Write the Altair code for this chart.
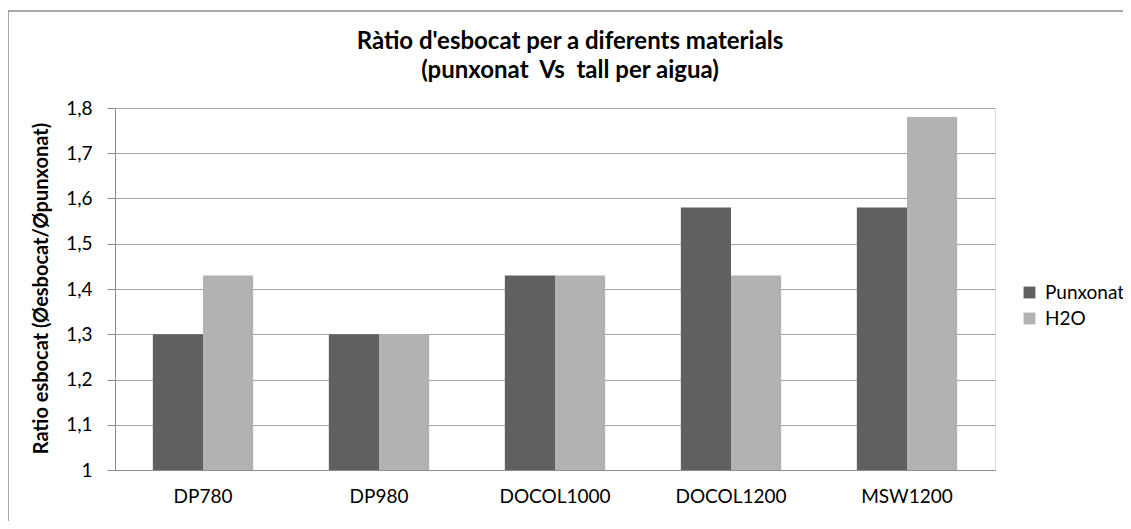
import altair as alt
import pandas as pd

materials = ["DP780", "DP980", "DOCOL1000", "DOCOL1200", "MSW1200"]
punxonat = [1.30, 1.30, 1.43, 1.58, 1.58]
h2o = [1.43, 1.30, 1.43, 1.43, 1.78]
series = ["Punxonat", "H2O"]
y_ticks = [1.0, 1.1, 1.2, 1.3, 1.4, 1.5, 1.6, 1.7, 1.8]

rows = []
for m, p, h in zip(materials, punxonat, h2o):
    rows.append({"material": m, "serie": series[0], "ratio": p})
    rows.append({"material": m, "serie": series[1], "ratio": h})
df = pd.DataFrame(rows)

FONT = "Lato"

bars = alt.Chart(df).mark_bar().encode(
    x=alt.X("material:N", sort=materials,
            scale=alt.Scale(paddingInner=0.43, paddingOuter=0.215),
            axis=alt.Axis(title=None, labelAngle=0, ticks=False, labelPadding=17,
                          labelFont=FONT, labelFontSize=19, labelColor="#000000",
                          domainColor="#8c8c8c", domainWidth=1)),
    xOffset=alt.XOffset("serie:N", sort=series, scale=alt.Scale(paddingInner=0, paddingOuter=0)),
    y=alt.Y("ratio:Q", scale=alt.Scale(domain=[1, 1.8], zero=False, nice=False),
            axis=alt.Axis(values=y_ticks, title="Ratio esbocat (Øesbocat/Øpunxonat)",
                          labelExpr="replace(format(datum.value, '.1~f'), '.', ',')",
                          labelFont=FONT, labelFontSize=19, labelColor="#000000",
                          labelPadding=15, tickSize=8, tickColor="#8c8c8c",
                          domainColor="#8c8c8c", gridColor="#a6a6a6", gridWidth=1,
                          titleFont=FONT, titleFontSize=20, titleFontWeight="bold",
                          titleColor="#000000", titleAngle=-90, titleX=-74, titleY=180,
                          titleAlign="center", titleBaseline="middle")),
    y2=alt.datum(1),
    color=alt.Color("serie:N", sort=series,
                    scale=alt.Scale(domain=series, range=["#606060", "#b2b2b2"]),
                    legend=alt.Legend(title=None, orient="none", legendX=905, legendY=175,
                                      symbolType="square", symbolSize=140,
                                      symbolStrokeWidth=0,
                                      labelFont=FONT, labelFontSize=19,
                                      labelColor="#000000", rowPadding=6, labelOffset=6)),
)

frame = alt.Chart(pd.DataFrame({"k": [0]})).mark_rect(
    fill=None, stroke="#8c8c8c", strokeWidth=1.5
).encode(
    x=alt.value(-107), x2=alt.value(1100), y=alt.value(-97), y2=alt.value(500)
)

chart = alt.layer(frame, bars).properties(
    width=880, height=362,
    padding={"left": 107, "top": 100, "right": 128, "bottom": 51},
    autosize=alt.AutoSizeParams(type="none"),
    title=alt.TitleParams(
        text=["Ràtio d'esbocat per a diferents materials",
              "(punxonat\u00a0 Vs\u00a0 tall per aigua)"],
        font=FONT, fontSize=24, fontWeight="bold", color="#000000",
        anchor="middle", dx=15, offset=0, dy=73, lineHeight=29),
).configure_view(stroke=None).configure(background="#ffffff")

chart.save("out.html", embed_options={"renderer": "svg", "actions": False})
